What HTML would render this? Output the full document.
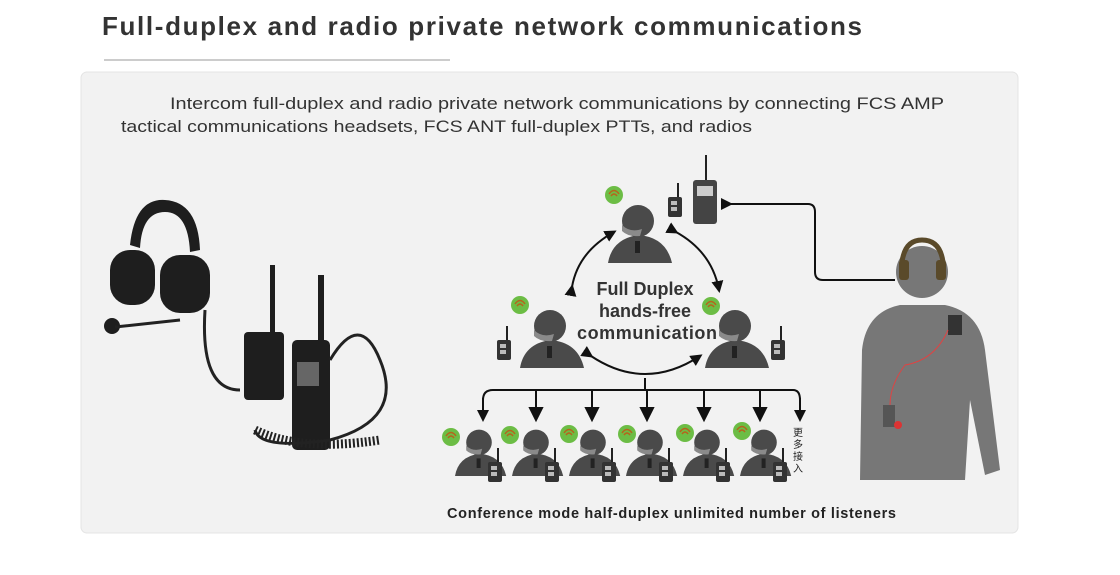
<!DOCTYPE html>
<html><head><meta charset="utf-8"><style>
body{margin:0;background:#fff;width:1120px;height:570px;overflow:hidden;font-family:"Liberation Sans","Noto Sans CJK SC",sans-serif}
</style></head><body>
<svg width="1120" height="570" viewBox="0 0 1120 570" xmlns="http://www.w3.org/2000/svg" font-family="Liberation Sans, Noto Sans CJK SC, sans-serif">
<defs>
<marker id="ah" markerWidth="12" markerHeight="12" refX="9" refY="6" orient="auto" markerUnits="userSpaceOnUse"><path d="M0,0 L12,6 L0,12 Z" fill="#111"/></marker>
<g id="p"><path d="M0,60 Q4,36 30,32 Q58,34 64,60 Z" fill="#4a4a4a"/><circle cx="30" cy="18" r="16" fill="#4a4a4a"/><path d="M14,22 Q22,30 34,26 L32,33 Q20,34 14,28Z" fill="#8a8a8a"/><rect x="27" y="38" width="5" height="12" fill="#222"/></g>
<g id="r"><rect x="0" y="0" width="14" height="20" rx="2" fill="#333"/><rect x="3" y="4" width="6" height="4" fill="#bbb"/><rect x="3" y="10" width="6" height="4" fill="#bbb"/><line x1="10" y1="0" x2="10" y2="-14" stroke="#222" stroke-width="2"/></g>
<g id="g"><circle r="9" fill="#6cbd45"/><path d="M-3,1 q3,-4 6,0 M-5,-1 q5,-7 10,0" stroke="#b5651d" stroke-width="1.5" fill="none"/></g>
</defs>
<text x="102" y="35" font-size="26" font-weight="bold" fill="#333" textLength="760" lengthAdjust="spacing">Full-duplex and radio private network communications</text>
<line x1="104" y1="60" x2="450" y2="60" stroke="#999" stroke-width="1"/>
<rect x="81" y="72" width="937" height="461" rx="6" fill="#f2f2f2" stroke="#e4e4e4"/>
<text x="170" y="109" font-size="17" fill="#333" textLength="774" lengthAdjust="spacingAndGlyphs">Intercom full-duplex and radio private network communications by connecting FCS AMP</text>
<text x="121" y="132" font-size="17" fill="#333" textLength="631" lengthAdjust="spacingAndGlyphs">tactical communications headsets, FCS ANT full-duplex PTTs, and radios</text>

<!-- left product -->
<g fill="#1e1e1e">
<path d="M130,245 Q135,198 165,200 Q198,202 200,250 L190,252 Q188,212 165,212 Q142,212 140,248Z"/>
<rect x="110" y="250" width="45" height="55" rx="20"/>
<rect x="160" y="255" width="50" height="58" rx="20"/>
<circle cx="112" cy="326" r="8"/>
<rect x="244" y="332" width="40" height="68" rx="4"/>
<rect x="270" y="265" width="5" height="70"/>
<rect x="318" y="275" width="6" height="70"/>
<rect x="292" y="340" width="38" height="110" rx="5"/>
</g>
<rect x="297" y="362" width="22" height="24" fill="#666"/>
<path d="M115,327 L180,320 M205,310 Q200,390 240,390 M330,360 Q360,310 380,360 Q405,420 330,440 Q260,450 255,430" stroke="#222" stroke-width="3" fill="none"/>
<path d="M255,430 Q300,452 380,440" stroke="#222" stroke-width="9" fill="none" stroke-dasharray="2 2"/>

<!-- network people -->
<use href="#p" x="608" y="203"/>
<use href="#r" x="668" y="197"/>
<rect x="693" y="180" width="24" height="44" rx="3" fill="#444"/><rect x="697" y="186" width="16" height="10" fill="#ccc"/><line x1="706" y1="180" x2="706" y2="155" stroke="#222" stroke-width="2"/>
<use href="#g" x="614" y="195"/>
<use href="#p" x="520" y="308"/>
<use href="#r" x="497" y="340"/>
<use href="#g" x="520" y="305"/>
<use href="#p" x="705" y="308"/>
<use href="#r" x="771" y="340"/>
<use href="#g" x="711" y="306"/>
<text x="645" y="295" font-size="18" fill="#333" text-anchor="middle" font-weight="bold">Full Duplex</text>
<text x="645" y="317" font-size="18" fill="#333" text-anchor="middle" font-weight="bold">hands-free</text>
<text x="647" y="339" font-size="18" fill="#333" text-anchor="middle" font-weight="bold" textLength="140" lengthAdjust="spacing">communication</text>
<g stroke="#111" stroke-width="2" fill="none">
<path d="M572,287 Q578,252 614,232" marker-start="url(#ah)" marker-end="url(#ah)"/>
<path d="M676,232 Q712,252 719,290" marker-start="url(#ah)" marker-end="url(#ah)"/>
<path d="M591,356 Q645,392 700,356" marker-start="url(#ah)" marker-end="url(#ah)"/>
<path d="M730,204 L808,204 Q815,204 815,212 L815,272 Q815,280 823,280 L895,280" marker-start="url(#ah)"/>
<path d="M645,378 L645,390 M483,400 Q483,390 493,390 L793,390 Q800,390 800,400"/>
</g>
<g fill="#111">
<path d="M477,410 L489,410 L483,422Z"/><line x1="483" y1="398" x2="483" y2="411" stroke="#111" stroke-width="2"/>
<path d="M794,410 L806,410 L800,422Z"/><line x1="800" y1="398" x2="800" y2="411" stroke="#111" stroke-width="2"/>
</g>
<g stroke="#111" stroke-width="2" fill="#111">
<path d="M536,390 L536,410" /><path d="M530,408 L542,408 L536,420Z"/>
<path d="M592,390 L592,410" /><path d="M586,408 L598,408 L592,420Z"/>
<path d="M647,390 L647,410" /><path d="M641,408 L653,408 L647,420Z"/>
<path d="M704,390 L704,410" /><path d="M698,408 L710,408 L704,420Z"/>
<path d="M760,390 L760,410" /><path d="M754,408 L766,408 L760,420Z"/>
</g>
<g>
<use href="#p" x="0" y="0" transform="translate(455,428) scale(0.8)"/><use href="#r" x="488" y="462"/><use href="#g" x="451" y="437"/>
<use href="#p" x="0" y="0" transform="translate(512,428) scale(0.8)"/><use href="#r" x="545" y="462"/><use href="#g" x="510" y="435"/>
<use href="#p" x="0" y="0" transform="translate(569,428) scale(0.8)"/><use href="#r" x="602" y="462"/><use href="#g" x="569" y="434"/>
<use href="#p" x="0" y="0" transform="translate(626,428) scale(0.8)"/><use href="#r" x="659" y="462"/><use href="#g" x="627" y="434"/>
<use href="#p" x="0" y="0" transform="translate(683,428) scale(0.8)"/><use href="#r" x="716" y="462"/><use href="#g" x="685" y="433"/>
<use href="#p" x="0" y="0" transform="translate(740,428) scale(0.8)"/><use href="#r" x="773" y="462"/><use href="#g" x="742" y="431"/>
</g>
<g font-size="10" fill="#222" text-anchor="middle"><text x="798" y="436">更</text><text x="798" y="448">多</text><text x="798" y="460">接</text><text x="798" y="472">入</text></g>
<text x="447" y="518" font-size="14.5" font-weight="bold" fill="#222" textLength="449" lengthAdjust="spacing">Conference mode half-duplex unlimited number of listeners</text>

<!-- right big silhouette -->
<path d="M860,480 L862,350 Q866,312 900,305 L945,305 Q980,312 985,350 L1000,470 L985,475 L970,400 L965,480 Z" fill="#777"/>
<circle cx="922" cy="272" r="26" fill="#777"/>
<path d="M902,262 Q905,240 922,240 Q940,240 943,262" stroke="#5a4a2a" stroke-width="5" fill="none"/>
<rect x="899" y="260" width="10" height="20" rx="3" fill="#5a4a2a"/><rect x="936" y="260" width="10" height="20" rx="3" fill="#5a4a2a"/>
<rect x="948" y="315" width="14" height="20" fill="#333"/>
<rect x="883" y="405" width="12" height="22" fill="#555"/>
<circle cx="898" cy="425" r="4" fill="#d33"/>
<path d="M948,330 Q935,360 905,365 Q890,385 890,405" stroke="#d44" stroke-width="1" fill="none"/>
</svg>
</body></html>
